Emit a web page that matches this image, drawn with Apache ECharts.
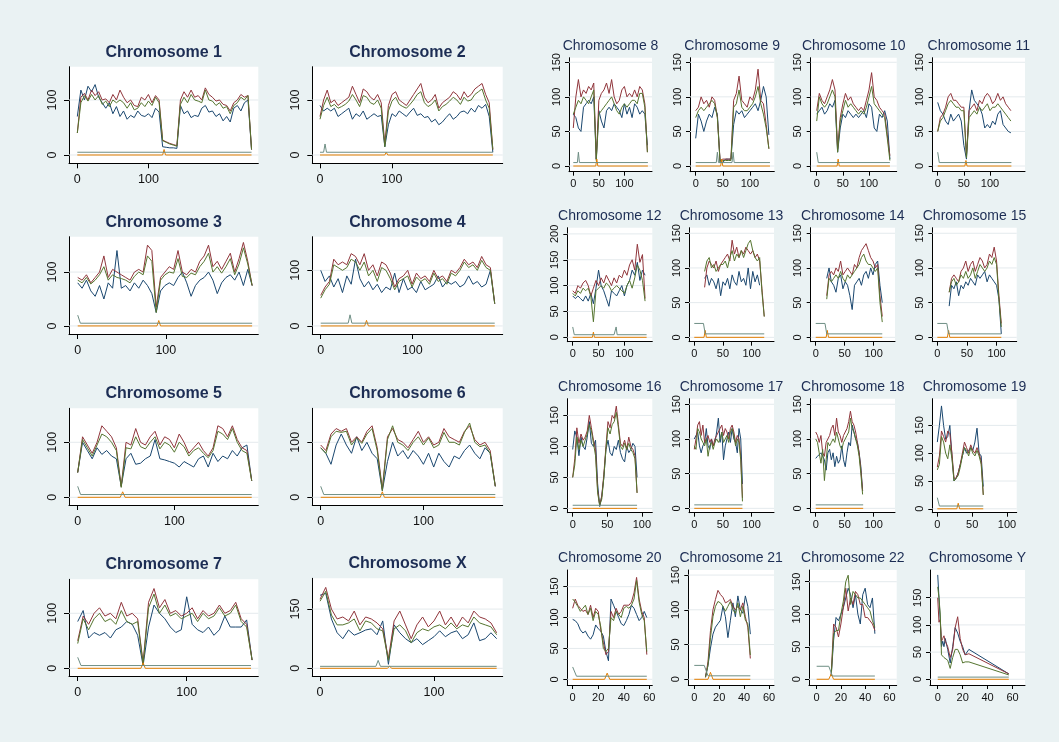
<!DOCTYPE html>
<html><head><meta charset="utf-8">
<script src="https://cdn.jsdelivr.net/npm/echarts@6/dist/echarts.min.js"></script>
<style>html,body{margin:0;padding:0;background:#eaf2f3}#c{width:1059px;height:742px}</style>
</head><body><div id="c"></div><script>
// ---------- DATA ----------
// chromosome 1 : x from 0 step 5
const c1_b=[70,118,100,125,115,128,105,95,85,95,75,88,70,80,65,72,68,80,72,70,75,68,85,78,15,14,13,13,12,90,75,80,68,72,70,85,90,78,80,70,75,62,70,60,85,90,80,95,100,10];
const c1_r=[40,105,112,100,118,108,115,100,102,95,110,100,118,105,95,100,90,88,105,100,110,95,108,100,27,24,21,19,17,100,115,105,118,105,108,100,122,110,105,98,100,92,90,80,95,100,110,105,108,10];
const c1_g=[40,95,108,98,110,100,108,92,98,88,100,95,100,95,85,95,82,85,95,88,98,90,105,95,26,23,20,18,16,92,105,95,110,100,98,95,118,100,98,90,95,85,88,75,90,95,105,100,108,10];
const c1_t=[[0,5],[245,5]];
const c1_o=[[0,0],[120,0],[122,10],[124,0],[245,0]];
// chromosome 2 : step 5
const c2_b=[90,80,85,80,85,70,75,80,85,65,75,70,80,65,70,75,70,72,15,55,75,70,80,75,70,78,85,72,75,68,70,60,65,55,60,68,75,65,70,78,80,75,85,78,90,85,92,70,5];
const c2_r=[70,100,118,95,100,90,95,100,105,125,110,95,120,115,105,100,110,95,20,90,110,115,100,95,90,100,110,120,130,105,95,100,110,85,95,100,105,115,110,100,115,105,110,120,125,130,110,95,10];
const c2_g=[65,90,105,88,92,85,88,92,98,110,100,88,108,105,95,92,100,85,15,80,98,105,92,88,85,92,100,110,115,95,88,92,100,80,88,92,98,105,100,92,105,98,100,110,115,120,100,85,10];
const c2_t=[[0,5],[5,5],[7,20],[9,5],[240,5]];
const c2_o=[[0,0],[90,0],[92,5],[94,0],[240,0]];
// chromosome 3 : step 4.95
const c3_b=[80,70,85,65,55,75,50,80,70,140,70,75,65,80,70,85,75,60,25,65,75,80,75,90,100,80,55,75,85,90,100,85,60,80,90,95,85,100,75,105,75];
const c3_r=[90,85,95,80,90,100,130,90,105,100,95,90,85,100,105,100,150,140,35,90,100,110,105,140,100,95,105,100,120,130,150,110,120,105,120,135,100,125,155,120,75];
const c3_g=[85,80,90,78,85,95,110,85,95,90,88,85,80,92,100,95,130,120,25,85,95,100,98,125,92,90,98,95,110,120,135,100,110,98,110,125,95,115,145,115,75];
const c3_t=[[0,20],[3,5],[198,5]];
const c3_o=[[0,0],[90,0],[92,10],[94,0],[198,0]];
// chromosome 4 : step 4.75
const c4_b=[100,80,90,70,85,60,90,75,120,85,70,80,65,75,60,70,65,95,60,85,65,70,60,80,65,70,75,90,70,80,75,80,70,75,90,75,80,70,75,100,40];
const c4_r=[55,70,80,120,110,115,110,130,125,110,130,100,110,90,115,110,95,70,85,90,100,75,95,85,90,80,100,85,90,80,100,95,105,120,110,115,105,125,110,105,40];
const c4_g=[50,65,75,110,105,100,105,120,115,100,115,90,100,80,105,100,85,65,80,85,90,70,88,80,85,75,95,80,85,75,95,90,100,115,105,110,100,118,105,100,40];
const c4_t=[[0,5],[30,5],[32,20],[34,5],[190,5]];
const c4_o=[[0,0],[48,0],[50,10],[52,0],[190,0]];
// chromosome 5 : step 5
const c5_b=[45,100,85,70,90,78,85,75,70,20,70,80,60,62,70,75,105,70,68,65,62,55,65,60,55,70,75,55,80,65,75,70,85,75,90,95,30];
const c5_r=[45,110,95,80,100,130,120,110,90,20,100,95,125,100,95,110,120,95,110,105,90,115,100,80,90,100,85,75,90,130,125,110,130,105,90,85,30];
const c5_g=[45,105,90,75,95,115,110,100,85,18,90,88,110,92,88,100,110,88,100,95,82,100,92,75,85,90,80,72,85,120,115,105,125,100,85,80,30];
const c5_t=[[0,20],[3,5],[180,5]];
const c5_o=[[0,0],[44,0],[46.5,10],[49,0],[180,0]];
// chromosome 6 : step 5
const c6_b=[90,80,60,95,115,95,80,110,85,100,80,70,12,65,100,75,85,70,85,75,60,80,55,80,65,55,75,70,85,95,80,70,90,80,20];
const c6_r=[95,85,115,125,120,125,100,110,100,120,130,90,15,110,125,105,100,90,105,120,100,110,95,100,125,110,105,100,120,130,105,95,100,85,20];
const c6_g=[90,80,110,120,118,120,95,108,98,115,125,85,12,105,130,100,95,85,100,110,95,108,90,95,118,100,100,95,118,135,100,92,95,80,20];
const c6_t=[[0,20],[3,5],[170,5]];
const c6_o=[[0,0],[58,0],[60,10],[62,0],[170,0]];
// chromosome 7 : step 5
const c7_b=[85,105,55,65,60,65,55,70,75,85,80,60,5,75,115,100,90,75,65,70,130,80,70,65,75,60,70,95,75,75,75,88,15];
const c7_r=[50,95,80,100,110,95,100,90,120,95,100,90,10,120,145,110,125,100,105,95,100,110,90,105,95,100,115,100,105,120,90,80,15];
const c7_g=[45,90,70,90,100,85,90,80,105,85,80,85,8,110,135,100,115,95,100,90,95,100,85,100,90,95,110,95,100,115,85,75,15];
const c7_t=[[0,20],[3,5],[159,5]];
const c7_o=[[0,0],[58,0],[60,10],[62,0],[159,0]];
// chromosome X : step 5
const cX_b=[185,190,125,90,75,97,84,90,97,100,85,120,10,110,90,75,65,75,60,70,80,95,80,90,95,75,85,115,70,75,90,75];
const cX_r=[175,205,150,125,130,120,145,110,130,125,115,100,25,120,145,110,75,110,130,105,120,145,110,130,105,130,115,145,130,125,115,90];
const cX_g=[170,195,135,110,110,115,125,95,120,115,100,95,20,100,110,95,65,90,100,95,105,110,100,115,100,110,105,130,115,110,105,85];
const cX_t=[[0,5],[49,5],[51,20],[53,5],[155,5]];
const cX_o=[[0,0],[59,0],[61,5],[63,0],[155,0]];
// chromosome 8 : step 5
const c8_b=[75,70,55,50,85,90,95,90,100,10,80,65,55,80,85,80,90,85,80,70,90,75,85,70,90,85,75,80,75,30];
const c8_r=[55,100,125,100,110,105,115,110,120,10,95,105,110,120,105,125,100,90,95,110,115,100,105,100,110,100,115,110,90,20];
const c8_g=[75,85,95,90,100,95,90,100,110,8,75,80,85,90,95,100,90,80,75,85,90,85,90,95,95,90,105,105,85,20];
const c8_t=[[0,5],[8,5],[10,20],[12,5],[146,5]];
const c8_o=[[0,0],[44,0],[46,10],[48,0],[146,0]];
// chromosome 9 : step 5
const c9_b=[40,75,65,50,65,75,70,85,75,5,5,10,10,10,60,80,75,80,70,75,80,85,90,80,95,115,100,45];
const c9_r=[80,85,100,90,95,85,100,95,70,8,10,10,10,10,95,105,130,95,90,85,100,95,110,140,95,90,60,25];
const c9_g=[70,80,85,80,85,90,95,90,70,5,8,8,8,8,85,90,110,85,80,80,85,90,100,115,90,75,55,25];
const c9_t=[[0,5],[38,5],[40,20],[42,5],[67,5],[69,20],[71,5],[137,5]];
const c9_o=[[0,0],[46,0],[48,10],[50,0],[137,0]];
// chromosome 10 : step 5
const c10_b=[75,80,85,75,80,90,85,95,20,55,75,70,80,75,70,75,70,75,80,70,90,85,55,50,75,70,80,65,10];
const c10_r=[80,105,95,90,100,110,125,110,25,70,90,105,95,100,90,85,80,85,80,95,110,135,100,95,85,80,75,45,15];
const c10_g=[65,100,90,85,90,100,110,100,20,65,80,95,85,90,85,80,75,80,75,85,100,115,90,85,80,75,70,40,8];
const c10_t=[[0,20],[3,5],[140,5]];
const c10_o=[[0,0],[39,0],[41,10],[43,0],[140,0]];
// chromosome 11 : step 5
const c11_b=[92,80,75,65,60,75,65,70,75,65,30,10,80,110,95,90,85,75,55,60,55,65,60,75,80,60,55,50,48];
const c11_r=[50,70,75,85,100,105,95,95,90,85,85,15,80,85,90,80,95,90,100,105,100,90,95,105,95,100,90,85,80];
const c11_g=[50,65,70,80,90,95,90,85,85,80,80,12,70,75,80,75,85,80,85,90,80,85,85,90,85,80,75,70,65];
const c11_t=[[0,20],[3,5],[141,5]];
const c11_o=[[0,0],[52,0],[54,8],[56,0],[141,0]];
// chromosome 12 : step 5
const c12_b=[80,75,80,75,70,80,70,85,65,95,130,100,90,75,60,90,85,80,90,100,80,100,110,130,120,145,110,130,120];
const c12_r=[90,85,100,95,105,110,100,80,95,110,100,115,105,120,110,100,115,105,120,115,130,120,140,150,130,180,145,160,75];
const c12_g=[85,80,90,85,95,90,95,80,30,90,95,100,95,105,100,90,95,100,95,90,85,100,110,95,115,140,130,110,70];
const c12_t=[[0,20],[3,5],[80,5],[84,20],[86,5],[143,5]];
const c12_o=[[0,0],[38,0],[40,10],[42,0],[143,0]];
// chromosome 13 : from 18 step 4
const c13_b=[85,90,75,85,80,70,85,60,80,75,85,70,90,80,75,95,80,85,75,100,70,95,80,90,75];
const c13_r=[72,100,110,105,100,110,95,105,110,115,120,110,140,120,130,115,125,120,130,125,120,125,115,120,110,70,30];
const c13_g=[95,110,115,100,105,95,100,105,105,110,100,115,125,110,120,115,125,115,125,135,140,125,115,110,115,65,30];
const c13_t=[[0,20],[16,20],[19,5],[122,5]];
const c13_o=[[0,0],[17,0],[19,10],[21,0],[122,0]];
// chromosome 14 : from 19 step 4
const c14_b=[85,100,80,75,65,85,90,70,80,75,60,40,75,80,85,75,90,95,85,100,90,105,110,75,50];
const c14_r=[60,90,95,90,100,95,110,90,95,100,95,90,105,100,115,125,130,135,125,115,110,100,105,60,30];
const c14_g=[55,85,80,85,90,85,95,85,80,90,85,90,95,100,105,115,120,110,105,105,100,95,100,50,22];
const c14_t=[[0,20],[16,20],[19,5],[115,5]];
const c14_o=[[0,0],[18,0],[20,10],[22,0],[115,0]];
// chromosome 15 : from 20 step 4
const c15_b=[45,75,70,80,60,75,70,80,75,85,80,75,90,85,90,95,80,90,85,80,75,55,5];
const c15_r=[65,85,90,85,80,95,100,110,95,105,110,95,105,115,110,100,105,120,115,130,110,60,20];
const c15_g=[65,80,85,75,80,90,85,95,85,90,100,85,95,105,100,95,100,110,105,115,105,55,15];
const c15_t=[[0,20],[16,20],[19,5],[108,5]];
const c15_o=[[0,0],[17,0],[19,10],[21,0],[108,0]];
// chromosome 16 : step 3
const c16_b=[95,125,115,85,115,100,95,115,140,105,100,110,40,3,20,50,95,110,90,85,100,95,110,90,80,75,100,90,95,105,100,50];
const c16_r=[50,80,130,105,120,110,115,125,150,130,110,95,30,5,20,55,100,140,130,150,145,165,135,105,100,110,95,115,100,95,85,25];
const c16_g=[50,70,115,95,110,100,110,120,135,125,105,85,25,5,15,50,95,130,120,135,140,155,130,100,95,105,95,105,95,90,80,25];
const c16_t=[[0,5],[93,5]];
const c16_o=[[0,0],[93,0]];
// chromosome 17 : step 3
const c17_b=[100,105,110,90,80,90,95,115,90,85,100,90,95,110,130,95,110,70,90,100,110,95,115,100,95,80,115,100,35];
const c17_r=[85,100,120,125,105,120,95,100,105,95,100,90,100,105,110,115,120,105,115,110,100,115,120,110,95,105,100,75,15];
const c17_g=[90,85,115,110,100,95,90,100,75,90,95,85,95,100,95,100,110,95,100,105,95,110,115,105,90,100,95,70,10];
const c17_t=[[0,5],[84,5]];
const c17_o=[[0,0],[84,0]];
// chromosome 18 : step 3
const c18_b=[72,75,73,80,75,70,55,80,85,70,80,60,75,65,70,90,70,60,80,95,90,120,110,100,95,80,60,25];
const c18_r=[110,105,95,105,80,75,95,100,105,115,120,105,130,110,105,95,105,110,115,125,140,125,120,110,95,80,55,25];
const c18_g=[100,95,80,65,85,40,70,95,90,95,100,95,110,100,90,85,95,100,105,110,130,115,110,100,90,75,50,20];
const c18_t=[[0,5],[82,5]];
const c18_o=[[0,0],[82,0]];
// chromosome 19 : step 3
const c19_b=[120,150,185,150,125,130,150,95,50,55,65,80,95,110,100,105,110,105,120,145,100,95,40];
const c19_r=[75,95,140,130,120,140,135,100,55,55,65,80,100,120,110,100,115,105,100,110,100,85,25];
const c19_g=[70,80,130,120,100,90,115,90,50,55,60,75,95,110,105,95,110,100,95,105,95,80,25];
const c19_t=[[0,20],[3,5],[66,5]];
const c19_o=[[0,0],[28,0],[30,10],[32,0],[66,0]];
// chromosome 20 : step 2
const c20_b=[97,95,90,80,75,78,70,65,72,88,82,78,70,45,30,130,120,110,100,90,87,95,105,120,115,105,95,100,110,100];
const c20_r=[115,130,120,115,110,112,105,120,100,115,110,80,60,40,45,110,100,115,105,110,120,120,120,125,140,165,130,110,100,40];
const c20_g=[130,125,118,110,115,120,105,115,95,110,105,85,50,45,50,100,95,110,105,100,115,118,115,120,130,160,125,105,95,45];
const c20_t=[[0,20],[3,5],[58,5]];
const c20_o=[[0,0],[25,0],[27,10],[29,0],[58,0]];
// chromosome 21 : from 9 step 2
const c21_b=[3,20,45,65,75,80,85,105,90,60,85,110,90,120,100,95,120,105,65];
const c21_r=[3,25,70,100,115,128,122,118,110,112,115,105,100,105,100,110,90,75,30];
const c21_g=[3,20,60,90,105,112,110,105,98,105,112,100,95,110,90,105,85,80,35];
const c21_t=[[0,20],[8,20],[11,5],[45,5]];
const c21_o=[[0,0],[11,0],[13,10],[15,0],[45,0]];
// chromosome 22 : from 12 step 2
const c22_b=[5,60,95,90,100,110,125,140,130,110,130,100,85,130,140,115,110,125,70];
const c22_r=[5,85,80,65,85,110,140,105,125,115,135,130,115,115,95,95,90,85,75];
const c22_g=[5,70,75,75,100,120,150,160,115,135,130,125,125,120,115,110,105,90,80];
const c22_t=[[0,20],[10,20],[13,5],[48,5]];
const c22_o=[[0,0],[10,0],[12,8],[14,0],[48,0]];
// chromosome Y : explicit positions
const cY_x=[0,1,2,3,4,5,6,8,10,12,14,16,18,20,22,25,57];
const cY_b=[192,150,110,60,70,60,75,55,30,60,95,85,70,60,45,55,10];
const cY_r=[150,105,110,70,75,80,70,60,40,55,95,115,75,55,45,47,10];
const cY_g=[170,150,120,45,42,40,40,35,20,40,55,55,45,30,32,32,8];
const cY_t=[[0,4],[57,4]];
const cY_o=[[0,0],[57,0]];

// tick label sets
const TICK_BIG=[0,100], TICK_X150=[0,150];
const TICK_S=[0,50,100,150], TICK_S200=[0,50,100,150,200];
const XT_BIG=[0,100], XT_S=[0,50,100], XT_20=[0,20,40,60];

function seq(x0,dx,vals){return vals.map((v,i)=>[x0+i*dx,v]);}
function zip(xs,vals){return vals.map((v,i)=>[xs[i],v]);}

// ---------- layout: [title, big, box(l,t,r,b), xrange, yrange, xticks, yticks, series] ----------
const P=[
 ['Chromosome 1',1,[69,66.7,258.3,163.3],[-11.7,254.5],[-15.1,160.5],XT_BIG,TICK_BIG,[seq(0,5,c1_b),seq(0,5,c1_r),seq(0,5,c1_g),c1_o,c1_t]],
 ['Chromosome 2',1,[312.3,66.7,502.7,163.3],[-10.7,253.7],[-15.1,160.5],XT_BIG,TICK_BIG,[seq(0,5,c2_b),seq(0,5,c2_r),seq(0,5,c2_g),c2_o,c2_t]],
 ['Chromosome 3',1,[69,236.7,258.3,334],[-9.9,205],[-15,165.7],XT_BIG,TICK_BIG,[seq(0,4.95,c3_b),seq(0,4.95,c3_r),seq(0,4.95,c3_g),c3_o,c3_t]],
 ['Chromosome 4',1,[312.3,236.7,502.7,334],[-9.2,198.7],[-14.5,160.5],XT_BIG,TICK_BIG,[seq(0,4.75,c4_b),seq(0,4.75,c4_r),seq(0,4.75,c4_g),c4_o,c4_t]],
 ['Chromosome 5',1,[69,408.3,258.3,505],[-9,186.8],[-14,161.8],XT_BIG,TICK_BIG,[seq(0,5,c5_b),seq(0,5,c5_r),seq(0,5,c5_g),c5_o,c5_t]],
 ['Chromosome 6',1,[312.3,408.3,502.7,505],[-8.2,177.2],[-14,161.8],XT_BIG,TICK_BIG,[seq(0,5,c6_b),seq(0,5,c6_r),seq(0,5,c6_g),c6_o,c6_t]],
 ['Chromosome 7',1,[69,579.3,258.3,676],[-8,165.7],[-14,161.8],XT_BIG,TICK_BIG,[seq(0,5,c7_b),seq(0,5,c7_r),seq(0,5,c7_g),c7_o,c7_t]],
 ['Chromosome X',1,[312.3,578.3,502.7,676],[-6.8,160.3],[-19.5,228],XT_BIG,TICK_X150,[seq(0,5,cX_b),seq(0,5,cX_r),seq(0,5,cX_g),cX_o,cX_t]],
 ['Chromosome 8',0,[569,57.7,652,171.7],[-8.4,154],[-8.2,156.6],XT_S,TICK_S,[seq(0,5,c8_b),seq(0,5,c8_r),seq(0,5,c8_g),c8_o,c8_t]],
 ['Chromosome 9',0,[690,57.7,774.3,171.7],[-10.5,145],[-8.2,156.6],XT_S,TICK_S,[seq(0,5,c9_b),seq(0,5,c9_r),seq(0,5,c9_g),c9_o,c9_t]],
 ['Chromosome 10',0,[810.7,57.7,896.7,171.7],[-11.5,153],[-8.2,156.6],XT_S,TICK_S,[seq(0,5,c10_b),seq(0,5,c10_r),seq(0,5,c10_g),c10_o,c10_t]],
 ['Chromosome 11',0,[932.7,57.7,1025,171.7],[-9.6,167],[-8.2,156.6],XT_S,TICK_S,[seq(0,5,c11_b),seq(0,5,c11_r),seq(0,5,c11_g),c11_o,c11_t]],
 ['Chromosome 12',0,[567.3,227.7,652.3,341.7],[-10.5,154],[-8.5,212],XT_S,TICK_S200,[seq(0,5,c12_b),seq(0,5,c12_r),seq(0,5,c12_g),c12_o,c12_t]],
 ['Chromosome 13',0,[689,227.7,774,341.7],[-9.2,139],[-6.3,158],XT_S,TICK_S,[seq(18,4,c13_b),seq(18,4,c13_r),seq(18,4,c13_g),c13_o,c13_t]],
 ['Chromosome 14',0,[810.7,227.7,895,341.7],[-8.7,137],[-6.3,158],XT_S,TICK_S,[seq(19,4,c14_b),seq(19,4,c14_r),seq(19,4,c14_g),c14_o,c14_t]],
 ['Chromosome 15',0,[932.3,227.7,1016.7,341.7],[-8.5,134],[-6.3,158],XT_S,TICK_S,[seq(20,4,c15_b),seq(20,4,c15_r),seq(20,4,c15_g),c15_o,c15_t]],
 ['Chromosome 16',0,[567.3,398.7,652.3,512.7],[-7.8,115],[-7,177],XT_S,TICK_S,[seq(0,3,c16_b),seq(0,3,c16_r),seq(0,3,c16_g),c16_o,c16_t]],
 ['Chromosome 17',0,[689,398.7,774,512.7],[-9.2,139],[-6.3,158],XT_S,TICK_S,[seq(0,3,c17_b),seq(0,3,c17_r),seq(0,3,c17_g),c17_o,c17_t]],
 ['Chromosome 18',0,[810.7,398.7,895,512.7],[-8.7,137],[-6.3,158],XT_S,TICK_S,[seq(0,3,c18_b),seq(0,3,c18_r),seq(0,3,c18_g),c18_o,c18_t]],
 ['Chromosome 19',0,[932.3,398.7,1016.7,512.7],[-7.2,114],[-7,198],XT_S,TICK_S,[seq(0,3,c19_b),seq(0,3,c19_r),seq(0,3,c19_g),c19_o,c19_t]],
 ['Chromosome 20',0,[567.3,570,652.3,685],[-4.2,62.3],[-9.2,177],XT_20,TICK_S,[seq(0,2,c20_b),seq(0,2,c20_r),seq(0,2,c20_g),c20_o,c20_t]],
 ['Chromosome 21',0,[688.3,570,774,685],[-4.8,64],[-8.2,157.3],XT_20,TICK_S,[seq(9,2,c21_b),seq(9,2,c21_r),seq(9,2,c21_g),c21_o,c21_t]],
 ['Chromosome 22',0,[809,570,896.7,685],[-6.3,66],[-8.8,168],XT_20,TICK_S,[seq(12,2,c22_b),seq(12,2,c22_r),seq(12,2,c22_g),c22_o,c22_t]],
 ['Chromosome Y',0,[930,570,1025,685],[-6.2,70],[-10.5,201],XT_20,TICK_S,[zip(cY_x,cY_b),zip(cY_x,cY_r),zip(cY_x,cY_g),cY_o,cY_t]]
];

const COLORS=['#1a476f','#90353b','#55752f','#e37e00','#6e8e84'];
const GRIDC='#e4eaed', AXC='#000', TITLEC='#1c2d54';
const NUMFONT='"Liberation Sans Narrow","Arial Narrow","Liberation Sans",sans-serif';

const grids=[],xAxes=[],yAxes=[],series=[],graphics=[];
P.forEach((p,i)=>{
  const [title,big,box,xr,yr,xt,yt,ser]=p;
  const [l,t,r,b]=box;
  grids.push({left:l,top:t,width:r-l,height:b-t,show:true,backgroundColor:'#fff',borderWidth:0,containLabel:false});
  const fs=big?12.5:11, tl=big?5:4;
  xAxes.push({type:'value',gridIndex:i,min:xr[0],max:xr[1],
    axisLine:{show:true,onZero:false,lineStyle:{color:AXC,width:1}},
    axisTick:{show:true,length:tl,customValues:xt,lineStyle:{color:AXC,width:1}},
    axisLabel:{customValues:xt,margin:big?10:7,fontSize:fs,color:'#111',fontFamily:NUMFONT},
    splitLine:{show:false}});
  yAxes.push({type:'value',gridIndex:i,min:yr[0],max:yr[1],
    axisLine:{show:true,onZero:false,lineStyle:{color:AXC,width:1}},
    axisTick:{show:true,length:tl,customValues:yt,lineStyle:{color:AXC,width:1}},
    axisLabel:{customValues:yt,rotate:90,margin:big?10:7,fontSize:fs,color:'#111',fontFamily:NUMFONT},
    splitLine:{show:false}});
  yt.forEach(v=>series.push({type:'line',xAxisIndex:i,yAxisIndex:i,data:[[xr[0],v],[xr[1],v]],
    symbol:'none',silent:true,z:1,animation:false,lineStyle:{color:GRIDC,width:1}}));
  ser.forEach((d,k)=>series.push({type:'line',xAxisIndex:i,yAxisIndex:i,data:d,symbol:'none',showSymbol:false,
    silent:true,z:2,animation:false,lineStyle:{color:COLORS[k],width:1}}));
  graphics.push({type:'text',x:(l+r)/2,y:t-(big?14.5:11.5),silent:true,
    style:{text:title,fill:TITLEC,align:'center',verticalAlign:'middle',
      font:(big?'bold 16px':'14px')+' "Liberation Sans", Arial, sans-serif'}});
});

const chart=echarts.init(document.getElementById('c'),null,{renderer:'canvas'});
chart.setOption({backgroundColor:'#eaf2f3',animation:false,grid:grids,xAxis:xAxes,yAxis:yAxes,series:series,graphic:graphics});
</script></body></html>
